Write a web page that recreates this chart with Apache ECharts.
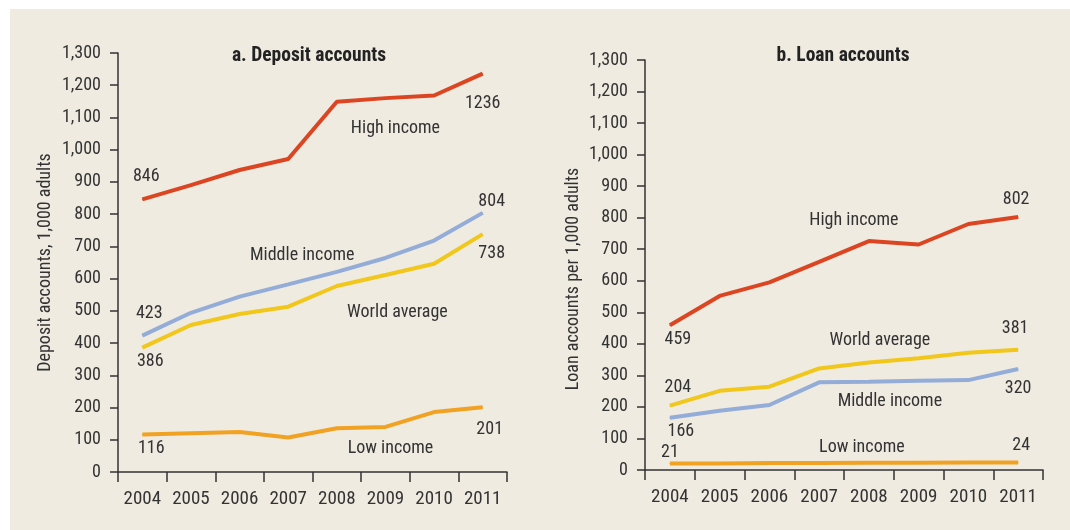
<!DOCTYPE html>
<html>
<head>
<meta charset="utf-8">
<script src="https://cdn.jsdelivr.net/npm/echarts@6/dist/echarts.min.js"></script>
<style>
html,body{margin:0;padding:0;background:#ffffff;}
#chart{width:1070px;height:530px;}
</style>
</head>
<body>
<div id="chart"></div>
<script>
// ---- data ----
const years = ['2004', '2005', '2006', '2007', '2008', '2009', '2010', '2011'];
const yTicks = [0, 1300, 100]; // min, max, interval
const depositHigh   = [846, 890, 937, 971, 1149, 1160, 1168, 1236];
const depositMiddle = [423, 494, 544, 582, 621, 664, 718, 804];
const depositWorld  = [386, 456, 490, 513, 577, 611, 646, 738];
const depositLow    = [116, 120, 124, 107, 136, 140, 186, 201];
const loanHigh      = [459, 552, 595, 660, 726, 715, 780, 802];
const loanWorld     = [204, 251, 264, 322, 341, 354, 372, 381];
const loanMiddle    = [166, 188, 206, 278, 280, 283, 285, 320];
const loanLow       = [21, 21, 22, 22, 23, 23, 24, 24];
const panelTitles = ['a. Deposit accounts', 'b. Loan accounts'];
const axisNames = ['Deposit accounts, 1,000 adults', 'Loan accounts per 1,000 adults'];
const seriesNames = ['High income', 'Middle income', 'World average', 'Low income'];

// ---- style ----
const FONT = '"Liberation Sans Narrow", "Roboto Condensed", "DejaVu Sans Condensed", "Liberation Sans", sans-serif';
const TXT = '#333333';
const colors = {high: '#dc4522', middle: '#94acd8', world: '#f1c71b', low: '#f1a223'};

// label annotations: index of point, text (null => value), offset from point
const ann = {
  dHigh:   [{i: 0, dx: 4, dy: -23}, {i: 7, dx: 0, dy: 30}, {i: 5, t: seriesNames[0], dx: 10, dy: 30}],
  dMiddle: [{i: 0, dx: 7, dy: -22}, {i: 7, dx: 9, dy: -11}, {i: 3, t: seriesNames[1], dx: 14, dy: -29}],
  dWorld:  [{i: 0, dx: 8, dy: 14}, {i: 7, dx: 9, dy: 19}, {i: 5, t: seriesNames[2], dx: 12, dy: 37}],
  dLow:    [{i: 0, dx: 9, dy: 14}, {i: 7, dx: 7, dy: 22}, {i: 5, t: seriesNames[3], dx: 5, dy: 22}],
  lHigh:   [{i: 0, dx: 8, dy: 14}, {i: 7, dx: -2, dy: -18}, {i: 4, t: seriesNames[0], dx: -15, dy: -21}],
  lWorld:  [{i: 0, dx: 8, dy: -18}, {i: 7, dx: -3, dy: -21}, {i: 4, t: seriesNames[2], dx: 11, dy: -22}],
  lMiddle: [{i: 0, dx: 11, dy: 14}, {i: 7, dx: 0, dy: 19}, {i: 4, t: seriesNames[1], dx: 21, dy: 20}],
  lLow:    [{i: 0, dx: 0, dy: -11}, {i: 7, dx: 3, dy: -17}, {i: 4, t: seriesNames[3], dx: -7, dy: -15}]
};

function mk(name, values, color, idx, labels) {
  return {
    type: 'line', name: name, xAxisIndex: idx, yAxisIndex: idx,
    symbol: 'circle', symbolSize: 1, showSymbol: true, silent: true,
    lineStyle: {color: color, width: 4}, itemStyle: {color: color},
    label: {show: false},
    data: values.map(function (v, i) {
      const a = labels.find(function (l) { return l.i === i; });
      if (!a) return v;
      return {value: v, label: {
        show: true, position: 'inside', offset: [a.dx, a.dy],
        formatter: a.t ? a.t : String(v),
        color: TXT, fontSize: 18, fontFamily: FONT, textBorderWidth: 0,
        align: 'center', verticalAlign: 'middle'
      }};
    })
  };
}

function fmt(v) { return v.toLocaleString('en-US'); }

function xAx(idx) {
  return {
    type: 'category', gridIndex: idx, data: years, boundaryGap: true,
    axisLine: {lineStyle: {color: '#333', width: 1.5}},
    axisTick: {show: true, interval: 0, length: 10, inside: false, alignWithLabel: false, lineStyle: {color: '#333', width: 1.5}},
    axisLabel: {interval: 0, color: TXT, fontSize: 19, fontFamily: FONT, margin: 18},
    splitLine: {show: false}
  };
}
function yAx(idx, gap, pad) {
  return {
    type: 'value', gridIndex: idx, min: yTicks[0], max: yTicks[1], interval: yTicks[2],
    name: axisNames[idx], nameLocation: 'middle', nameGap: gap, nameRotate: 90,
    nameTextStyle: {color: TXT, fontSize: 18, fontFamily: FONT, padding: pad},
    axisLine: {show: true, lineStyle: {color: '#333', width: 1.5}},
    axisTick: {show: true, length: 8, lineStyle: {color: '#333', width: 1.5}},
    axisLabel: {color: TXT, fontSize: 18, fontFamily: FONT, margin: 17, formatter: fmt},
    splitLine: {show: false}
  };
}

const chart = echarts.init(document.getElementById('chart'), null, {renderer: 'canvas'});
chart.setOption({
  animation: false,
  backgroundColor: '#ffffff',
  graphic: [
    {type: 'rect', z: -10, silent: true, shape: {x: 10, y: 9, width: 1060, height: 521}, style: {fill: '#efebe1'}},
    {type: 'text', x: 309, y: 56, silent: true, style: {text: panelTitles[0], fill: '#222', font: 'bold 19.5px ' + FONT, textAlign: 'center', textVerticalAlign: 'middle'}},
    {type: 'text', x: 843, y: 56, silent: true, style: {text: panelTitles[1], fill: '#222', font: 'bold 19.5px ' + FONT, textAlign: 'center', textVerticalAlign: 'middle'}}
  ],
  grid: [
    {left: 118, top: 53, width: 389, height: 419},
    {left: 645, top: 60, width: 398, height: 410}
  ],
  xAxis: [xAx(0), xAx(1)],
  yAxis: [yAx(0, 64, [0, 0, 0, 0]), yAx(1, 63, [0, 28, 0, 0])],
  series: [
    mk(seriesNames[0], depositHigh, colors.high, 0, ann.dHigh),
    mk(seriesNames[1], depositMiddle, colors.middle, 0, ann.dMiddle),
    mk(seriesNames[2], depositWorld, colors.world, 0, ann.dWorld),
    mk(seriesNames[3], depositLow, colors.low, 0, ann.dLow),
    mk(seriesNames[0], loanHigh, colors.high, 1, ann.lHigh),
    mk(seriesNames[2], loanWorld, colors.world, 1, ann.lWorld),
    mk(seriesNames[1], loanMiddle, colors.middle, 1, ann.lMiddle),
    mk(seriesNames[3], loanLow, colors.low, 1, ann.lLow)
  ]
});
</script>
</body>
</html>
